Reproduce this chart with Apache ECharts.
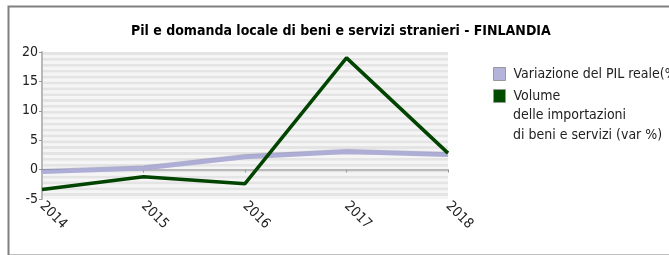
<!DOCTYPE html>
<html>
<head>
<meta charset="utf-8">
<script src="https://cdn.jsdelivr.net/npm/echarts@6/dist/echarts.min.js"></script>
<style>
html, body { margin: 0; padding: 0; background: #fff; }
#chart { width: 669px; height: 255px; }
</style>
</head>
<body>
<div id="chart"></div>
<script>
// data
var years = ['2014', '2015', '2016', '2017', '2018'];
var pilReale = [-0.4, 0.2, 2.1, 3.0, 2.5];
var importazioni = [-3.4, -1.2, -2.4, 19.0, 2.8];
var yTicks = [-5, 0, 5, 10, 15, 20];

var pilName = 'Variazione del PIL reale(%)';
var impName = 'Volume\ndelle importazioni\ndi beni e servizi (var %)';

var font = '"DejaVu Sans Condensed", "DejaVu Sans"';
var myChart = echarts.init(document.getElementById('chart'));

var option = {
	backgroundColor: '#fff',
	animation: false,
	title: {
		text: 'Pil e domanda locale di beni e servizi stranieri - FINLANDIA',
		left: 126,
		top: 19,
		textStyle: { fontFamily: font, fontSize: 14, fontWeight: 'bold', color: '#000' }
	},
	legend: {
		orient: 'vertical',
		left: 493,
		top: 64,
		padding: 0,
		itemWidth: 12,
		itemHeight: 13,
		itemGap: 2,
		icon: 'rect',
		data: [
			{ name: pilName, itemStyle: { color: '#b4b4da', borderColor: '#999', borderWidth: 1 } },
			{ name: impName, itemStyle: { color: '#004d00', borderColor: '#999', borderWidth: 1 } }
		],
		formatter: function(name) {
			return name.split('\n')[0];
		},
		textStyle: { fontFamily: font, fontSize: 14, lineHeight: 20, color: '#222', padding: [0, 0, 0, 3] }
	},
	graphic: [
		{
			type: 'rect',
			left: 6, top: 4,
			shape: { width: 663, height: 249 },
			style: { fill: 'none', stroke: '#808080', lineWidth: 2 },
			silent: true
		},
		{
			type: 'text',
			left: 513, top: 105,
			style: {
				text: impName.split('\n').slice(1).join('\n'),
				fontFamily: font, fontSize: 14, lineHeight: 20, fill: '#222'
			}
		}
	],
	grid: { left: 42, right: 221, top: 52, bottom: 56 },
	xAxis: {
		type: 'category',
		data: years,
		boundaryGap: false,
		axisLine: { lineStyle: { color: '#b8b8b8', width: 2 } },
		axisTick: { show: true, length: 3, lineStyle: { color: '#999' } },
		axisLabel: { rotate: -45, fontFamily: font, fontSize: 14, color: '#222', margin: 5 },
		splitLine: { show: false }
	},
	yAxis: [
		{
			type: 'value',
			min: yTicks[0],
			max: yTicks[yTicks.length - 1],
			interval: 5,
			axisLine: { show: true, lineStyle: { color: '#b8b8b8', width: 2 } },
			axisTick: { show: true, length: 3, lineStyle: { color: '#999' } },
			axisLabel: { fontFamily: font, fontSize: 14, color: '#222', margin: 4 },
			splitLine: { show: false }
		},
		{
			// only used for the striped background
			type: 'value',
			position: 'left',
			min: -5,
			max: 20,
			interval: 0.5,
			axisLine: { show: false },
			axisTick: { show: false },
			axisLabel: { show: false },
			splitLine: { show: false },
			splitArea: { show: true, areaStyle: { color: ['#f5f5f5', '#e4e4e4'] } }
		}
	],
	series: [
		{
			name: pilName,
			type: 'line',
			data: pilReale,
			symbol: 'none',
			lineStyle: { color: '#adadd6', width: 4, shadowColor: 'rgba(80,80,150,0.45)', shadowBlur: 1, shadowOffsetY: -1 },
			itemStyle: { color: '#b4b4da' },
			z: 2
		},
		{
			name: impName,
			type: 'line',
			data: importazioni,
			symbol: 'none',
			lineStyle: { color: '#004400', width: 3.5 },
			itemStyle: { color: '#004d00' },
			z: 3
		}
	]
};
myChart.setOption(option);
</script>
</body>
</html>
